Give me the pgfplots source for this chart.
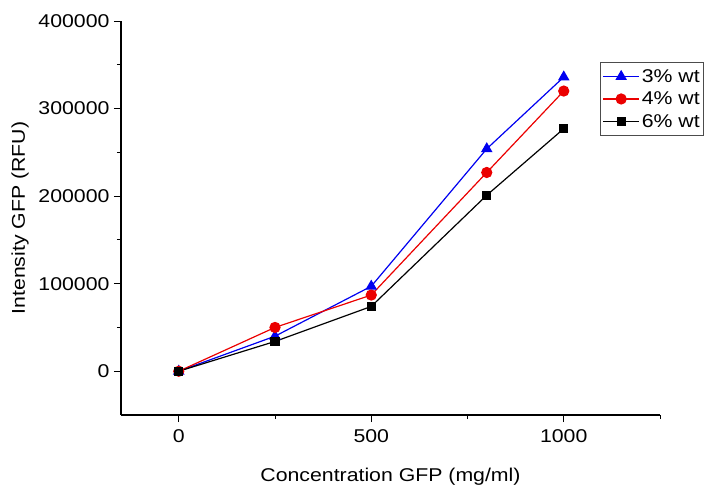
\documentclass[border=0pt]{standalone}
\usepackage{pgfplots}
\pgfplotsset{compat=1.18}
\usepackage{fontspec}
\setmainfont[FakeStretch=1.15]{Liberation Sans}
\definecolor{cblue}{RGB}{0,0,240}
\definecolor{cred}{RGB}{235,0,0}
\begin{document}
\begin{tikzpicture}
\begin{axis}[
  scale only axis, width=539pt, height=394pt,
  xmin=-150, xmax=1250, ymin=-50000, ymax=400000,
  axis x line*=bottom, axis y line*=left,
  axis line style={line width=1.1pt, -},
  tick align=outside,
  major tick length=7pt, minor tick length=4pt,
  every tick/.style={black, line width=1.0pt},
  xtick={0,500,1000}, minor xtick={250,750,1250},
  ytick={0,100000,200000,300000,400000},
  minor ytick={50000,150000,250000,350000},
  scaled y ticks=false,
  /pgf/number format/fixed,
  /pgf/number format/precision=0,
  /pgf/number format/1000 sep={},
  /pgf/number format/assume math mode=true,
  tick label style={font=\fontsize{18.5}{21}\selectfont},
  xticklabel style={yshift=-4pt},
  yticklabel style={xshift=-1pt},
  label style={font=\fontsize{18.5}{21}\selectfont},
  xlabel={Concentration GFP (mg/ml)},
  ylabel={Intensity GFP (RFU)},
  xlabel style={yshift=-19pt},
  ylabel style={yshift=3pt},
  legend style={at={(0.889,0.896)}, anchor=north west, draw=black!70, line width=0.8pt,
    font=\fontsize{18.5}{21}\selectfont, inner xsep=2pt, inner ysep=5pt, row sep=4pt,
    legend cell align=left},
  legend image code/.code={\draw[#1] (0pt,0pt) -- (36pt,0pt); \draw[#1, mark repeat=2, mark phase=2] plot coordinates {(0pt,0pt) (18pt,0pt) (36pt,0pt)};},
]
\coordinate (O) at (rel axis cs:0,0);
\addplot[cblue, line width=1.2pt, mark=triangle*, mark size=5.5pt, mark options={solid}] coordinates {
(0,0) (250,40000) (500,97000) (800,254000) (1000,336000)};
\addlegendentry{3\% wt}
\addplot[cred, line width=1.2pt, mark=*, mark size=5pt] coordinates {
(0,0) (250,50000) (500,87000) (800,227000) (1000,320000)};
\addlegendentry{4\% wt}
\addplot[black, line width=1.2pt, mark=square*, mark size=4pt] coordinates {
(0,0) (250,34000) (500,74000) (800,201000) (1000,277000)};
\addlegendentry{6\% wt}
\end{axis}
\pgfresetboundingbox
\path[use as bounding box] ([shift={(-121pt,-70pt)}]O) rectangle ([shift={(586pt,415pt)}]O);
\end{tikzpicture}
\end{document}
